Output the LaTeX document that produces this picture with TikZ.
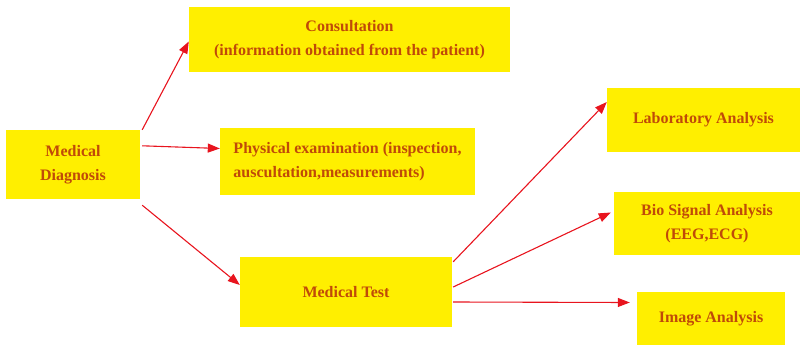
\documentclass[tikz,border=0pt]{standalone}
\usepackage{fontspec}
\setmainfont{Liberation Serif}
\usetikzlibrary{arrows.meta}
\definecolor{boxyellow}{HTML}{FFEF00}
\definecolor{txtcol}{HTML}{C04A08}
\definecolor{arrred}{HTML}{E8141E}
\begin{document}
\begin{tikzpicture}[x=1pt,y=-1pt,
  box/.style={fill=boxyellow,draw=none,inner sep=2pt,align=center,
    font=\bfseries\fontsize{16}{24}\selectfont,text=txtcol},
  arr/.style={draw=arrred,line width=1.1pt,-{Triangle[length=12pt,width=9pt]}}]
\useasboundingbox (0,0) rectangle (800,345);
\node[box,minimum width=134pt,minimum height=69pt] (md) at (73,164.5) {Medical\\Diagnosis};
\node[box,minimum width=321pt,minimum height=65pt] (cons) at (349.5,39.5) {Consultation\\(information obtained from the patient)};
\node[box,minimum width=255pt,minimum height=67pt,align=left] (phys) at (347.5,161.5) {Physical examination (inspection,\\auscultation,measurements)};
\node[box,minimum width=212pt,minimum height=70pt] (mt) at (346,292) {Medical Test};
\node[box,minimum width=193pt,minimum height=64pt] (lab) at (703.5,120) {Laboratory Analysis};
\node[box,minimum width=186pt,minimum height=63pt] (bio) at (707,223.5) {Bio Signal Analysis\\(EEG,ECG)};
\node[box,minimum width=148pt,minimum height=53pt] (img) at (711,318.5) {Image Analysis};
\draw[arr] ([xshift=2pt]md.north east) -- ([yshift=-2pt]cons.west);
\draw[arr] ([xshift=2pt,yshift=-16pt]md.north east) -- ([yshift=13pt]phys.west);
\draw[arr] ([xshift=2pt,yshift=-6pt]md.south east) -- ([yshift=7pt]mt.west);
\draw[arr] ([xshift=1pt,yshift=-5pt]mt.north east) -- ([yshift=18pt]lab.west);
\draw[arr] ([xshift=1pt,yshift=5pt]mt.east) -- ([xshift=-3pt,yshift=11pt]bio.west);
\draw[arr] ([xshift=1pt,yshift=-10pt]mt.east) -- ([xshift=-7pt,yshift=16pt]img.west);
\end{tikzpicture}
\end{document}
